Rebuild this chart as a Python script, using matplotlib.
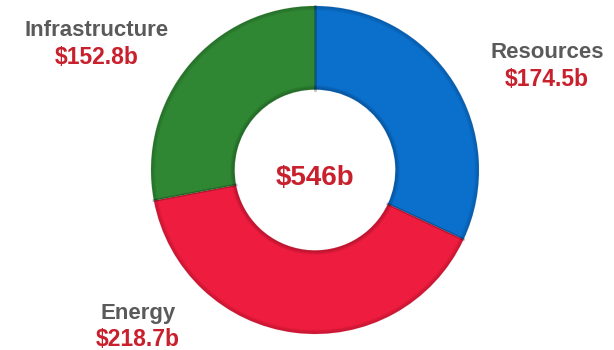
import matplotlib
matplotlib.use("Agg")
import matplotlib.pyplot as plt
import numpy as np

plt.rcParams['font.family'] = ['Liberation Sans', 'DejaVu Sans']

sectors = ['Resources', 'Energy', 'Infrastructure']
spend = [174.5, 218.7, 152.8]
total_label = '$546b'
colors = ['#0b6fcc', '#ee1c3e', '#2f8733']

fig = plt.figure(figsize=(6.14, 3.5), dpi=100)
ax = fig.add_axes([0, 0, 1, 1])

cx, cy, r = 315, 180, 164
hole = r * 0.49
wedges, _ = ax.pie(spend, colors=colors, startangle=90, counterclock=False,
                   center=(cx, cy), radius=r, frame=True,
                   wedgeprops=dict(width=r - hole, linewidth=0))
ax.set_xlim(0, 614)
ax.set_ylim(0, 350)
ax.set_aspect('equal')
ax.axis('off')

# soft darker rims so the ring looks a little bevelled
for w in wedges:
    t = np.radians(np.linspace(w.theta1, w.theta2, 120))
    for k in range(4):
        ax.plot(cx + (r - 0.5 - k) * np.cos(t), cy + (r - 0.5 - k) * np.sin(t),
                color='black', alpha=0.10 - 0.02 * k, lw=1.2)
        ax.plot(cx + (hole + 0.5 + k) * np.cos(t), cy + (hole + 0.5 + k) * np.sin(t),
                color='black', alpha=0.14 - 0.03 * k, lw=1.2)
    for th in (w.theta1, w.theta2):
        a = np.radians(th)
        ax.plot([cx + hole * np.cos(a), cx + r * np.cos(a)],
                [cy + hole * np.sin(a), cy + r * np.sin(a)],
                color='black', alpha=0.12, lw=2)

label_pos = [(547, 297), (138, 37), (97, 319)]
for name, val, (x, y) in zip(sectors, spend, label_pos):
    ax.text(x, y, name, ha='center', va='center', fontsize=16,
            fontweight='bold', color='#5a5a5a')
    ax.text(x, y - 27, f'${val}b', ha='center', va='center', fontsize=16.5,
            fontweight='bold', color='#c8202c')

ax.text(cx, cy - 8, total_label, ha='center', va='center', fontsize=20,
        fontweight='bold', color='#c8202c')

fig.savefig('out.png', dpi=100)
